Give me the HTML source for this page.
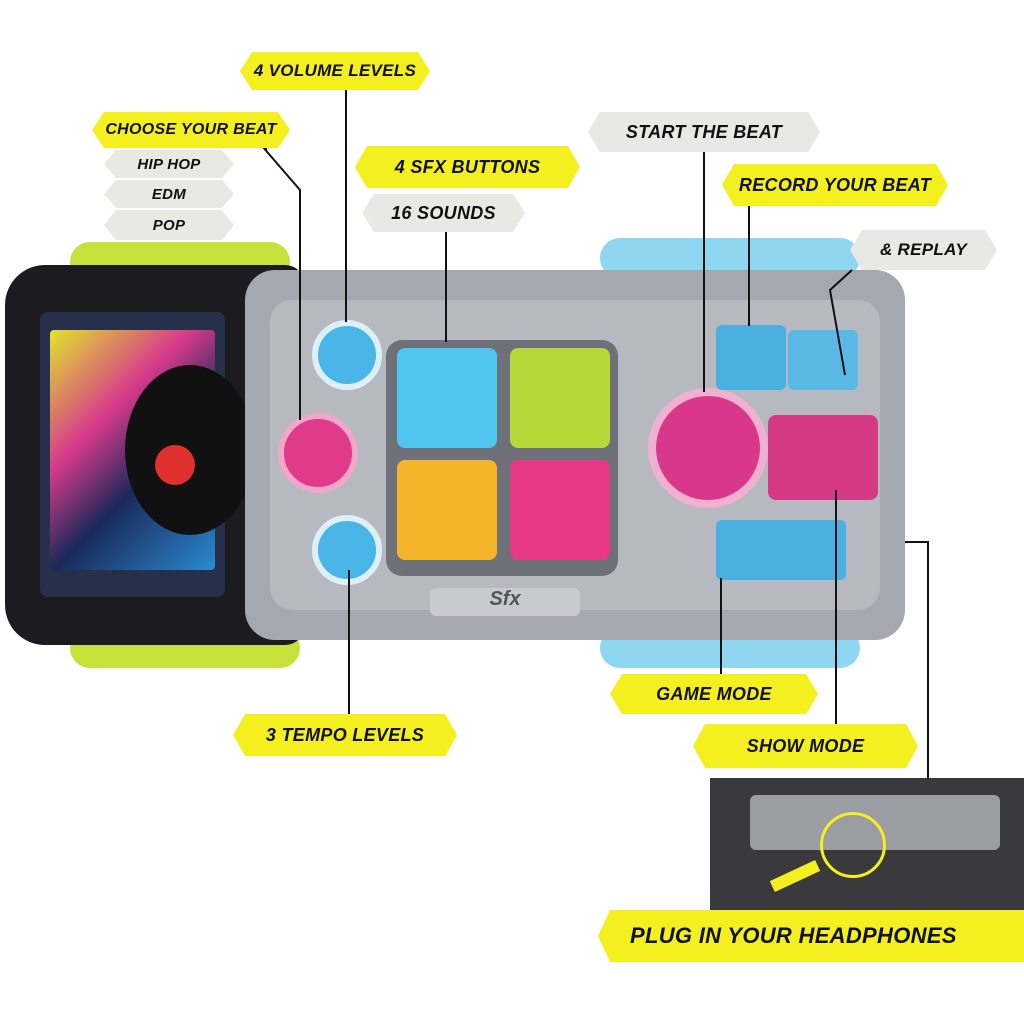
<!DOCTYPE html>
<html><head><meta charset="utf-8"><style>
*{margin:0;padding:0;box-sizing:border-box}
body{width:1024px;height:1024px;background:#fff;position:relative;overflow:hidden;font-family:"Liberation Sans",sans-serif}
.l{position:absolute;display:flex;align-items:center;justify-content:center;font-weight:bold;font-style:italic;color:#111;clip-path:polygon(0 50%,12px 0,calc(100% - 12px) 0,100% 50%,calc(100% - 12px) 100%,12px 100%);letter-spacing:0.3px}
.y{background:#f4ef1f}
.g{background:#e8e8e4}
.a{position:absolute;border-radius:14px}
.v{position:absolute;background:#111;width:2px}
.h{position:absolute;background:#111;height:2px}
</style></head><body>
<!-- wheels -->
<div class="a" style="left:70px;top:242px;width:220px;height:40px;background:#c6e23a;border-radius:20px"></div>
<div class="a" style="left:70px;top:628px;width:230px;height:40px;background:#c6e23a;border-radius:20px"></div>
<div class="a" style="left:600px;top:238px;width:260px;height:40px;background:#8fd6f0;border-radius:20px"></div>
<div class="a" style="left:600px;top:628px;width:260px;height:40px;background:#8fd6f0;border-radius:20px"></div>
<!-- black front -->
<div class="a" style="left:5px;top:265px;width:300px;height:380px;background:#1c1c20;border-radius:40px 20px 20px 40px"></div>
<div class="a" style="left:40px;top:312px;width:185px;height:285px;background:#26304a;border-radius:8px"></div>
<div class="a" style="left:50px;top:330px;width:165px;height:240px;background:linear-gradient(135deg,#e0e52a 0%,#d63a8a 35%,#1a2a5a 60%,#2b8ad0 100%);border-radius:4px"></div>
<div class="a" style="left:125px;top:365px;width:130px;height:170px;background:#111;border-radius:50%"></div>
<div class="a" style="left:155px;top:445px;width:40px;height:40px;background:#e03030;border-radius:50%"></div>
<!-- gray body -->
<div class="a" style="left:245px;top:270px;width:660px;height:370px;background:#a5a8b0;border-radius:30px"></div>
<div class="a" style="left:270px;top:300px;width:610px;height:310px;background:#b6b9c0;border-radius:22px"></div>
<div class="a" style="left:386px;top:340px;width:232px;height:236px;background:#6e717a;border-radius:16px"></div>
<div class="a" style="left:397px;top:348px;width:100px;height:100px;background:#4fc5f0;border-radius:8px"></div>
<div class="a" style="left:510px;top:348px;width:100px;height:100px;background:#b6d93a;border-radius:8px"></div>
<div class="a" style="left:397px;top:460px;width:100px;height:100px;background:#f4b52a;border-radius:8px"></div>
<div class="a" style="left:510px;top:460px;width:100px;height:100px;background:#e83a84;border-radius:8px"></div>
<div class="a" style="left:312px;top:320px;width:70px;height:70px;background:#4ab6e8;border-radius:50%;border:6px solid #ddeff8"></div>
<div class="a" style="left:278px;top:413px;width:80px;height:80px;background:#e03a8a;border-radius:50%;border:6px solid #f0a8c8"></div>
<div class="a" style="left:312px;top:515px;width:70px;height:70px;background:#4ab6e8;border-radius:50%;border:6px solid #ddeff8"></div>
<div class="a" style="left:648px;top:388px;width:120px;height:120px;background:#d9388a;border-radius:50%;border:8px solid #f0b0d0"></div>
<div class="a" style="left:768px;top:415px;width:110px;height:85px;background:#d63a86;border-radius:8px"></div>
<div class="a" style="left:716px;top:325px;width:70px;height:65px;background:#4ab0e0;border-radius:6px"></div>
<div class="a" style="left:788px;top:330px;width:70px;height:60px;background:#5ab8e4;border-radius:6px"></div>
<div class="a" style="left:716px;top:520px;width:130px;height:60px;background:#4ab0e0;border-radius:6px"></div>
<div style="position:absolute;left:430px;top:588px;width:150px;height:28px;background:#c8cad0;border-radius:6px;font:italic bold 20px 'Liberation Sans';color:#555;text-align:center">Sfx</div>
<!-- lines -->
<div class="v" style="left:345px;top:90px;height:232px"></div>
<div class="h" style="left:265px;top:148px;width:2px"></div>
<svg style="position:absolute;left:0;top:0" width="1024" height="1024"><g stroke="#111" stroke-width="2" fill="none">
<polyline points="262,146 300,190 300,420"/>
<polyline points="852,270 830,290 845,375"/>
<polyline points="905,542 928,542 928,778"/>
</g></svg>
<div class="v" style="left:445px;top:232px;height:110px"></div>
<div class="v" style="left:703px;top:152px;height:240px"></div>
<div class="v" style="left:748px;top:206px;height:120px"></div>
<div class="v" style="left:720px;top:578px;height:96px"></div>
<div class="v" style="left:835px;top:490px;height:234px"></div>
<div class="v" style="left:348px;top:570px;height:144px"></div>
<!-- inset photo -->
<div class="a" style="left:710px;top:778px;width:314px;height:135px;background:#3a3a3c;border-radius:0"></div>
<div class="a" style="left:750px;top:795px;width:250px;height:55px;background:#9a9da2;border-radius:6px"></div>
<div class="a" style="left:820px;top:812px;width:66px;height:66px;border:3px solid #f4ef1f;border-radius:50%"></div>
<div class="a" style="left:770px;top:870px;width:50px;height:12px;background:#f4ef1f;border-radius:0;transform:rotate(-25deg)"></div>
<!-- labels -->
<div class="l y" style="left:240px;top:52px;width:190px;height:38px;font-size:17px">4 VOLUME LEVELS</div>
<div class="l y" style="left:92px;top:112px;width:198px;height:36px;font-size:16px">CHOOSE YOUR BEAT</div>
<div class="l g" style="left:104px;top:150px;width:130px;height:28px;font-size:15px">HIP HOP</div>
<div class="l g" style="left:104px;top:180px;width:130px;height:28px;font-size:15px">EDM</div>
<div class="l g" style="left:104px;top:210px;width:130px;height:30px;font-size:15px">POP</div>
<div class="l y" style="left:355px;top:146px;width:225px;height:42px;font-size:18px">4 SFX BUTTONS</div>
<div class="l g" style="left:362px;top:194px;width:163px;height:38px;font-size:18px">16 SOUNDS</div>
<div class="l g" style="left:588px;top:112px;width:232px;height:40px;font-size:18px">START THE BEAT</div>
<div class="l y" style="left:722px;top:164px;width:226px;height:42px;font-size:18px">RECORD YOUR BEAT</div>
<div class="l g" style="left:850px;top:230px;width:147px;height:40px;font-size:17px">&amp; REPLAY</div>
<div class="l y" style="left:610px;top:674px;width:208px;height:40px;font-size:18px">GAME MODE</div>
<div class="l y" style="left:233px;top:714px;width:224px;height:42px;font-size:18px">3 TEMPO LEVELS</div>
<div class="l y" style="left:693px;top:724px;width:225px;height:44px;font-size:18px">SHOW MODE</div>
<div class="l y" style="left:598px;top:910px;width:440px;height:52px;font-size:22px;justify-content:flex-start;padding-left:32px">PLUG IN YOUR HEADPHONES</div>
</body></html>
